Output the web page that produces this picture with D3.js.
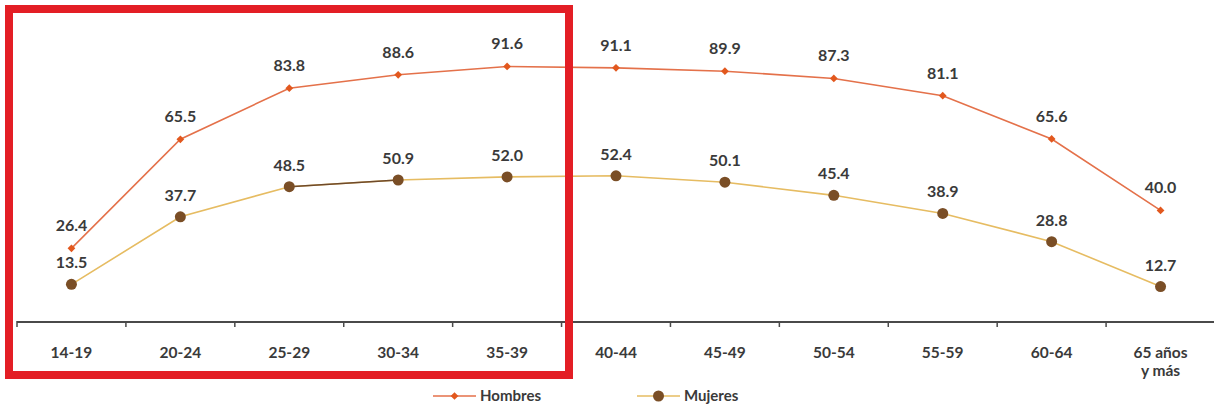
<!DOCTYPE html>
<html>
<head>
<meta charset="utf-8">
<script src="https://cdn.jsdelivr.net/npm/d3@7"></script>
<style>
  html, body { margin: 0; padding: 0; background: #fff; }
  svg { display: block; }
  text { font-family: Lato, "Noto Sans", sans-serif; font-weight: 700; fill: #3a3a3a; }
</style>
</head>
<body>
<svg id="chart" width="1214" height="407"></svg>
<script>
// Tasa de participación por grupo de edad y sexo
const groups = ["14-19", "20-24", "25-29", "30-34", "35-39", "40-44", "45-49", "50-54", "55-59", "60-64", "65 años\ny más"];
const hombres = [26.4, 65.5, 83.8, 88.6, 91.6, 91.1, 89.9, 87.3, 81.1, 65.6, 40.0];
const mujeres = [13.5, 37.7, 48.5, 50.9, 52.0, 52.4, 50.1, 45.4, 38.9, 28.8, 12.7];
const seriesNames = ["Hombres", "Mujeres"];

const svg = d3.select("#chart");

const x = d3.scaleBand().domain(groups).range([17, 1215]).paddingInner(0).paddingOuter(0);
const y = d3.scaleLinear().domain([0, 100]).range([322, 43]);
const cx = g => x(g) + x.bandwidth() / 2;

// Category axis with ticks at band boundaries
const axisY = y(0);
const axisG = svg.append("g");
axisG.append("line")
  .attr("x1", x.range()[0]).attr("x2", x.range()[1])
  .attr("y1", axisY).attr("y2", axisY)
  .attr("stroke", "#4a4a4a").attr("stroke-width", 1.8);
const bounds = groups.map(g => x(g)).concat([x(groups[groups.length - 1]) + x.bandwidth()]);
axisG.selectAll("line.tick").data(bounds).join("line")
  .attr("class", "tick")
  .attr("x1", d => d).attr("x2", d => d)
  .attr("y1", axisY - 1).attr("y2", axisY + 5)
  .attr("stroke", "#4a4a4a").attr("stroke-width", 1.5);

axisG.selectAll("text.cat").data(groups).join("text")
  .attr("class", "cat")
  .attr("text-anchor", "middle")
  .attr("font-size", 15.5)
  .attr("x", d => cx(d))
  .attr("y", 358)
  .each(function(d) {
    const lines = d.split("\n");
    d3.select(this).selectAll("tspan").data(lines).join("tspan")
      .attr("x", cx(d))
      .attr("dy", (l, i) => i === 0 ? 0 : 18)
      .text(l => l);
  });

const line = d3.line().x((d, i) => cx(groups[i])).y(d => y(d));

// Hombres
const colH = "#e4714a", markH = "#e2581e";
svg.append("path").datum(hombres)
  .attr("d", line).attr("fill", "none")
  .attr("stroke", colH).attr("stroke-width", 1.6);

// Mujeres
const colM = "#e6bc62", markM = "#7a4e26";
svg.append("path").datum(mujeres)
  .attr("d", line).attr("fill", "none")
  .attr("stroke", colM).attr("stroke-width", 1.6);
// darker segment between 25-29 and 30-34
svg.append("line")
  .attr("x1", cx(groups[2])).attr("y1", y(mujeres[2]))
  .attr("x2", cx(groups[3])).attr("y2", y(mujeres[3]))
  .attr("stroke", "#6e4a2c").attr("stroke-width", 1.6);

const diamond = d3.symbol().type(d3.symbolSquare).size(30);
svg.selectAll("path.mh").data(hombres).join("path")
  .attr("class", "mh")
  .attr("d", diamond)
  .attr("transform", (d, i) => `translate(${cx(groups[i])},${y(d)}) rotate(45)`)
  .attr("fill", markH);

svg.selectAll("circle.mm").data(mujeres).join("circle")
  .attr("class", "mm")
  .attr("cx", (d, i) => cx(groups[i])).attr("cy", d => y(d))
  .attr("r", 5.5).attr("fill", markM);

// Value labels
svg.selectAll("text.lh").data(hombres).join("text")
  .attr("class", "lh")
  .attr("text-anchor", "middle").attr("font-size", 16)
  .attr("x", (d, i) => cx(groups[i])).attr("y", d => y(d) - 17)
  .text(d => d.toFixed(1));
svg.selectAll("text.lm").data(mujeres).join("text")
  .attr("class", "lm")
  .attr("text-anchor", "middle").attr("font-size", 16)
  .attr("x", (d, i) => cx(groups[i])).attr("y", d => y(d) - 16)
  .text(d => d.toFixed(1));

// Legend
const legend = svg.append("g");
const legItems = [
  { name: seriesNames[0], x0: 433, col: colH, mark: "d" },
  { name: seriesNames[1], x0: 637, col: colM, mark: "c" }
];
legItems.forEach(it => {
  const ly = 396;
  legend.append("line").attr("x1", it.x0).attr("x2", it.x0 + 43)
    .attr("y1", ly).attr("y2", ly).attr("stroke", it.col).attr("stroke-width", 1.6);
  if (it.mark === "d") {
    legend.append("path").attr("d", diamond)
      .attr("transform", `translate(${it.x0 + 21.5},${ly}) rotate(45)`).attr("fill", markH);
  } else {
    legend.append("circle").attr("cx", it.x0 + 21.5).attr("cy", ly).attr("r", 5.5).attr("fill", markM);
  }
  legend.append("text").attr("x", it.x0 + 47).attr("y", ly + 5)
    .attr("font-size", 15).text(it.name);
});

// Highlight frame over the first five groups
svg.append("rect")
  .attr("x", 9).attr("y", 9).attr("width", 560).attr("height", 366)
  .attr("fill", "none").attr("stroke", "#e31e25").attr("stroke-width", 8);
</script>
</body>
</html>
